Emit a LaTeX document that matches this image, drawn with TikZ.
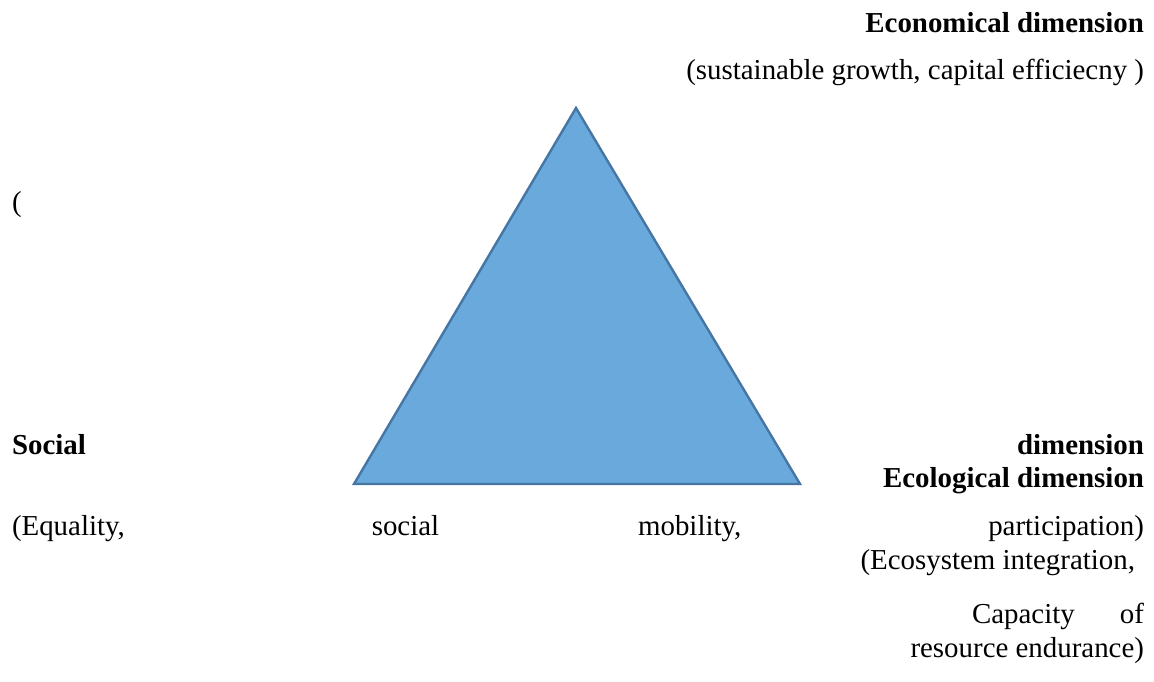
\documentclass[tikz,border=0pt]{standalone}
\usepackage{fontspec}
\setmainfont{Liberation Serif}
\definecolor{triblue}{RGB}{106,169,219}
\definecolor{triedge}{RGB}{70,118,164}
\begin{document}
\begin{tikzpicture}[x=0.4152pt, y=-0.4152pt,
  every node/.style = {inner sep=0pt, outer sep=0pt,
    font=\fontsize{12}{13.8}\selectfont},
  head/.style = {font=\fontsize{12}{13.8}\selectfont\bfseries}]
  \useasboundingbox (0,0) rectangle (1154,682);
  \coordinate (apex) at (576,108);
  \coordinate (base left) at (354,484);
  \coordinate (base right) at (800,484);
  \filldraw[fill=triblue, draw=triedge, line width=1pt, line join=miter]
    (apex) -- (base left) -- (base right) -- cycle;
  \node[head, anchor=base east] (econ) at (1144,33) {Economical dimension};
  \node[anchor=base east] (econ text) at (1144,80)
    {(sustainable growth, capital efficiecny )};
  \node[anchor=base west] (paren) at (12,212) {(};
  \node[head, anchor=base west] (social) at (12,455)
    {\makebox[470pt][s]{Social dimension}};
  \node[head, anchor=base east] (eco) at (1144,488) {Ecological dimension};
  \node[anchor=base west] (social text) at (12,536)
    {\makebox[470pt][s]{(Equality, social mobility, participation)}};
  \node[anchor=base east] (eco text) at (1135,570) {(Ecosystem integration,};
  \node[anchor=base east] (eco cap) at (1144,624)
    {\makebox[71.4pt][s]{Capacity of}};
  \node[anchor=base east] (eco end) at (1144,658) {resource endurance)};
\end{tikzpicture}
\end{document}
